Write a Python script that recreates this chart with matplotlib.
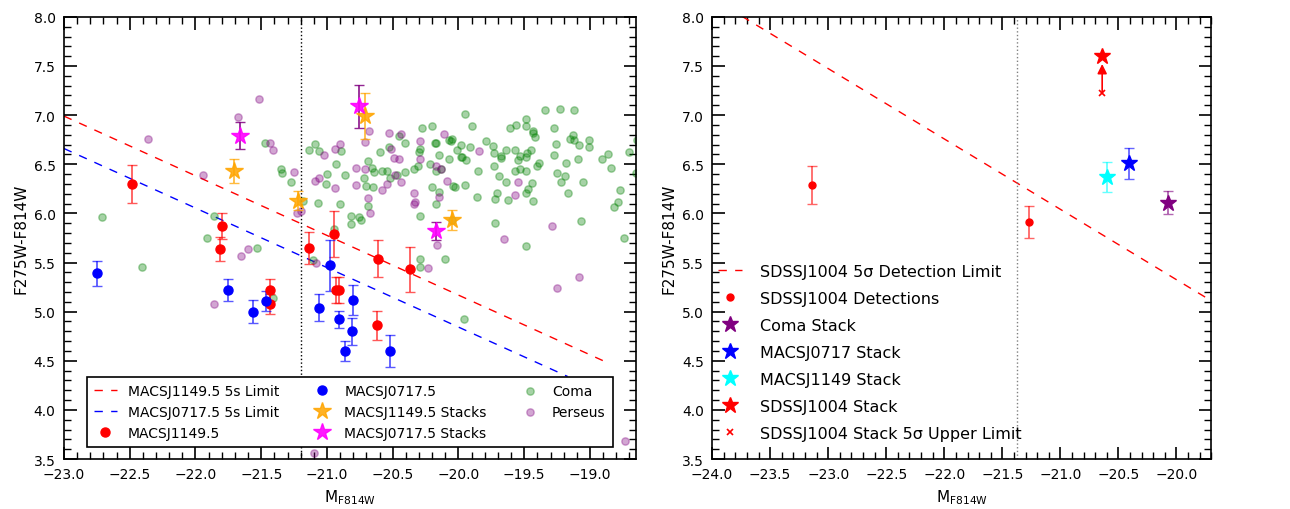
import numpy as np
import matplotlib
matplotlib.use('Agg')
import matplotlib.pyplot as plt
from matplotlib.ticker import MultipleLocator

# --- left panel: MACS clusters vs Coma / Perseus
lim1149_x = [-23.0, -18.85]
lim1149_y = [6.99, 4.47]
lim0717_x = [-23.0, -19.17]
lim0717_y = [6.66, 4.34]

m1149_x = [-22.48, -21.80, -21.81, -21.43, -21.43, -21.14, -20.95, -20.93, -20.91, -20.61, -20.37, -20.62]
m1149_y = [6.30, 5.87, 5.64, 5.22, 5.08, 5.65, 5.79, 5.22, 5.22, 5.54, 5.43, 4.86]
m1149_err = [0.19, 0.13, 0.12, 0.11, 0.10, 0.165, 0.23, 0.13, 0.13, 0.19, 0.23, 0.145]

m0717_x = [-22.75, -21.75, -21.56, -21.46, -21.06, -20.98, -20.91, -20.80, -20.81, -20.86, -20.52]
m0717_y = [5.39, 5.22, 5.00, 5.11, 5.04, 5.47, 4.92, 5.12, 4.80, 4.60, 4.60]
m0717_err = [0.125, 0.115, 0.12, 0.10, 0.14, 0.26, 0.085, 0.155, 0.135, 0.105, 0.16]

s1149_x = [-21.71, -21.22, -20.71, -20.05]
s1149_y = [6.43, 6.13, 6.99, 5.93]
s1149_err = [0.12, 0.10, 0.23, 0.10]

s0717_x = [-21.66, -20.76, -20.17]
s0717_y = [6.79, 7.09, 5.82]
s0717_err = [0.135, 0.22, 0.09]

coma_x = [-22.71, -22.41, -21.86, -21.91, -21.53, -21.47, -21.35, -21.34, -21.27, -21.18,
          -21.14, -21.09, -21.06, -20.89, -20.93, -21.00, -20.86, -21.01, -21.07, -20.90,
          -20.82, -20.76, -20.74, -20.82, -20.95, -20.60, -20.69, -20.66, -20.64, -20.58,
          -20.54, -20.72, -20.70, -20.65, -20.69, -20.53, -21.11, -20.52, -20.47, -20.45,
          -20.41, -20.41, -20.34, -20.31, -20.30, -20.29, -20.28, -20.20, -20.18, -20.17,
          -20.22, -20.15, -20.17, -20.13, -20.20, -20.15, -20.17, -20.07, -20.07, -20.29,
          -20.29, -20.29, -20.10, -20.05, -20.06, -19.95, -19.90, -19.98, -20.01, -19.91,
          -19.98, -19.97, -19.94, -19.79, -19.74, -19.73, -19.68, -19.68, -19.64, -19.61,
          -19.56, -19.49, -19.49, -19.43, -19.43, -19.42, -19.34, -19.23, -19.12, -19.27,
          -19.13, -19.15, -19.12, -19.26, -19.01, -19.01, -19.08, -19.57, -19.53, -19.48,
          -19.45, -19.49, -19.55, -19.27, -19.09, -18.91, -18.86, -18.84, -18.70, -18.64,
          -19.39, -19.40, -19.18, -19.85, -19.73, -19.69, -19.57, -19.53, -19.49, -19.64,
          -19.44, -19.47, -19.49, -19.71, -19.72, -19.86, -19.62, -19.43, -19.25, -19.19,
          -19.22, -19.05, -19.17, -20.04, -20.03, -19.95, -19.72, -19.49, -19.07, -18.77,
          -18.79, -18.82, -18.74, -20.05, -18.65, -19.96, -21.41]
coma_y = [5.96, 5.45, 5.97, 5.75, 5.65, 6.72, 6.45, 6.41, 6.32, 6.13,
          6.64, 6.71, 6.63, 6.63, 6.50, 6.40, 6.39, 6.30, 6.11, 6.10,
          5.97, 5.96, 5.93, 5.89, 5.84, 6.62, 6.53, 6.46, 6.42, 6.43,
          6.43, 6.36, 6.28, 6.27, 6.08, 6.68, 5.53, 6.36, 6.39, 6.79,
          6.72, 6.42, 6.45, 6.48, 6.62, 6.66, 6.87, 6.89, 6.72, 6.72,
          6.50, 6.59, 6.43, 6.45, 6.27, 6.22, 6.10, 6.55, 6.75, 5.97,
          5.54, 5.45, 5.54, 6.76, 6.74, 7.01, 6.89, 6.70, 6.65, 6.68,
          6.57, 6.57, 6.54, 6.74, 6.69, 6.61, 6.58, 6.56, 6.65, 6.87,
          6.90, 6.96, 6.89, 6.84, 6.82, 6.78, 7.05, 7.06, 7.05, 6.87,
          6.80, 6.76, 6.75, 6.71, 6.75, 6.68, 6.70, 6.65, 6.58, 6.61,
          6.65, 6.57, 6.54, 6.59, 6.55, 6.55, 6.60, 6.46, 6.62, 6.75,
          6.51, 6.48, 6.51, 6.43, 6.48, 6.38, 6.43, 6.45, 6.43, 6.32,
          6.31, 6.25, 6.21, 6.21, 6.15, 6.17, 6.14, 6.13, 6.41, 6.38,
          6.32, 6.32, 6.21, 6.28, 6.27, 6.29, 5.90, 5.67, 5.92, 6.24,
          6.12, 6.06, 5.75, 5.93, 6.41, 4.92, 5.14]

perseus_x = [-22.36, -21.94, -21.68, -21.52, -21.60, -21.65, -21.43, -21.41, -21.25, -21.23,
             -21.20, -21.09, -21.06, -21.02, -20.94, -20.90, -20.78, -20.78, -20.71, -20.68,
             -20.71, -20.69, -20.67, -20.58, -20.53, -20.94, -20.44, -20.51, -20.49, -20.45,
             -20.54, -20.48, -20.44, -20.34, -20.34, -20.33, -20.29, -20.29, -20.11, -20.17,
             -20.15, -20.16, -20.23, -21.08, -19.84, -20.09, -19.55, -19.57, -19.29, -19.65,
             -19.08, -20.13, -19.25, -18.73, -21.86, -21.10]
perseus_y = [6.76, 6.39, 6.98, 7.16, 5.64, 5.57, 6.72, 6.65, 6.42, 6.00,
             6.02, 6.33, 6.36, 6.59, 6.66, 6.71, 6.46, 6.29, 6.45, 6.84,
             6.73, 6.16, 6.00, 6.24, 6.82, 6.26, 6.81, 6.66, 6.56, 6.55,
             6.30, 6.39, 6.32, 6.21, 6.10, 6.12, 6.74, 6.55, 6.81, 6.48,
             6.17, 5.68, 5.44, 5.50, 6.63, 6.33, 6.32, 6.19, 5.87, 5.74,
             5.35, 6.45, 5.24, 3.68, 5.08, 3.56]

mag_cut_left = -21.2

# --- right panel: SDSSJ1004
lim1004_x = [-24.0, -19.7]
lim1004_y = [8.19, 5.11]
det1004_x = [-23.14, -21.27]
det1004_y = [6.29, 5.91]
det1004_err = [0.195, 0.16]
stack_names = ['Coma Stack', 'MACSJ0717 Stack', 'MACSJ1149 Stack', 'SDSSJ1004 Stack']
stack_colors = ['purple', 'blue', 'cyan', 'red']
stack_x = [-20.07, -20.41, -20.60, -20.64]
stack_y = [6.11, 6.51, 6.37, 7.60]
stack_err = [0.12, 0.16, 0.15, 0.0]
ulim1004_x = -20.64
ulim1004_y = 7.22
ulim1004_arrow = 7.52
mag_cut_right = -21.37

fs = 10
plt.rcParams['font.family'] = ['DejaVu Sans']
fig = plt.figure(figsize=(12.9, 5.1), dpi=100)
ax1 = fig.add_axes([0.0496, 0.098, 0.4434, 0.867])
ax2 = fig.add_axes([0.552, 0.098, 0.387, 0.867])

dash = (6, 6)
ax1.plot(lim1149_x, lim1149_y, '--', color='red', lw=1, dashes=dash, label='MACSJ1149.5 5s Limit')
ax1.plot(lim0717_x, lim0717_y, '--', color='blue', lw=1, dashes=dash, label='MACSJ0717.5 5s Limit')
ax1.axvline(mag_cut_left, color='k', ls=':', lw=1)

ax1.scatter(coma_x, coma_y, s=28, color='green', alpha=0.35, zorder=2, label='Coma')
ax1.scatter(perseus_x, perseus_y, s=28, color='purple', alpha=0.35, zorder=2, label='Perseus')

ax1.errorbar(m1149_x, m1149_y, yerr=m1149_err, fmt='none', ecolor='red', alpha=0.65,
             capsize=3.5, elinewidth=1.3, zorder=3)
ax1.plot(m1149_x, m1149_y, 'o', color='red', ms=6.5, mec='red', zorder=4, label='MACSJ1149.5')
ax1.errorbar(m0717_x, m0717_y, yerr=m0717_err, fmt='none', ecolor='blue', alpha=0.65,
             capsize=3.5, elinewidth=1.3, zorder=3)
ax1.plot(m0717_x, m0717_y, 'o', color='blue', ms=6.5, mec='blue', zorder=4, label='MACSJ0717.5')

ax1.errorbar(s1149_x, s1149_y, yerr=s1149_err, fmt='none', ecolor='orange', alpha=0.75,
             capsize=3.5, elinewidth=1.3, zorder=3)
ax1.plot(s1149_x, s1149_y, '*', color='orange', ms=13, mec='orange', alpha=0.85, zorder=4,
         label='MACSJ1149.5 Stacks')
ax1.errorbar(s0717_x, s0717_y, yerr=s0717_err, fmt='none', ecolor='purple', alpha=0.85,
             capsize=3.5, elinewidth=1.3, zorder=3)
ax1.plot(s0717_x, s0717_y, '*', color='magenta', ms=13, mec='magenta', alpha=0.9, zorder=4,
         label='MACSJ0717.5 Stacks')

ax1.set_xlim(-23.0, -18.65)
ax1.set_ylim(3.5, 8.0)

h, l = ax1.get_legend_handles_labels()
order = ['MACSJ1149.5 5s Limit', 'MACSJ0717.5 5s Limit', 'MACSJ1149.5', 'MACSJ0717.5',
         'MACSJ1149.5 Stacks', 'MACSJ0717.5 Stacks', 'Coma', 'Perseus']
hl = dict(zip(l, h))
leg1 = ax1.legend([hl[k] for k in order], order, loc='lower center', ncol=3, numpoints=1,
                  scatterpoints=1, fontsize=fs, fancybox=False, edgecolor='k',
                  borderaxespad=0.9, columnspacing=2.3, handlelength=1.6,
                  handletextpad=0.8, borderpad=0.5, framealpha=1)
leg1.get_frame().set_linewidth(1.2)

# right panel
ax2.plot(lim1004_x, lim1004_y, '--', color='red', lw=1, dashes=dash,
         label='SDSSJ1004 5σ Detection Limit')
ax2.axvline(mag_cut_right, color='gray', ls=':', lw=1)
ax2.errorbar(det1004_x, det1004_y, yerr=det1004_err, fmt='none', ecolor='red', alpha=0.6,
             capsize=3.5, elinewidth=1.3)
ax2.plot(det1004_x, det1004_y, 'o', color='red', ms=5, mec='red', label='SDSSJ1004 Detections')
for name, c, x, y, e in zip(stack_names, stack_colors, stack_x, stack_y, stack_err):
    if e > 0:
        ax2.errorbar([x], [y], yerr=[e], fmt='none', ecolor=c, alpha=0.6, capsize=3.5,
                     elinewidth=1.3)
    ax2.plot([x], [y], '*', color=c, mec=c, ms=12, label=name)
ax2.annotate('', xy=(ulim1004_x, ulim1004_arrow), xytext=(ulim1004_x, ulim1004_y),
             arrowprops=dict(arrowstyle='-|>', color='red', lw=1.2, mutation_scale=14,
                             shrinkA=0, shrinkB=0))
ax2.plot([ulim1004_x], [ulim1004_y], 'x', color='red', ms=5, mew=1.2,
         label='SDSSJ1004 Stack 5σ Upper Limit')
ax2.set_xlim(-24.0, -19.7)
ax2.set_ylim(3.5, 8.0)
ax2.legend(loc='lower left', bbox_to_anchor=(0.0, 0.027), frameon=False, numpoints=1,
           fontsize=11.5, labelspacing=0.75, borderaxespad=0.2, handlelength=1.5,
           handletextpad=1.1, borderpad=0.2)

for ax in (ax1, ax2):
    ax.xaxis.set_major_locator(MultipleLocator(0.5))
    ax.xaxis.set_minor_locator(MultipleLocator(0.1))
    ax.yaxis.set_major_locator(MultipleLocator(0.5))
    ax.yaxis.set_minor_locator(MultipleLocator(0.1))
    ax.tick_params(which='both', direction='in', top=True, right=True, labelsize=fs)
    ax.tick_params(which='major', length=9, width=1.2, pad=6)
    ax.tick_params(which='minor', length=5, width=1)
    for sp in ax.spines.values():
        sp.set_linewidth(1.2)
    ax.set_xlabel('M$_{\\rm F814W}$', fontsize=fs + 1)
    ax.set_ylabel('F275W-F814W', fontsize=fs + 1)

fig.savefig('out.png', dpi=100)
